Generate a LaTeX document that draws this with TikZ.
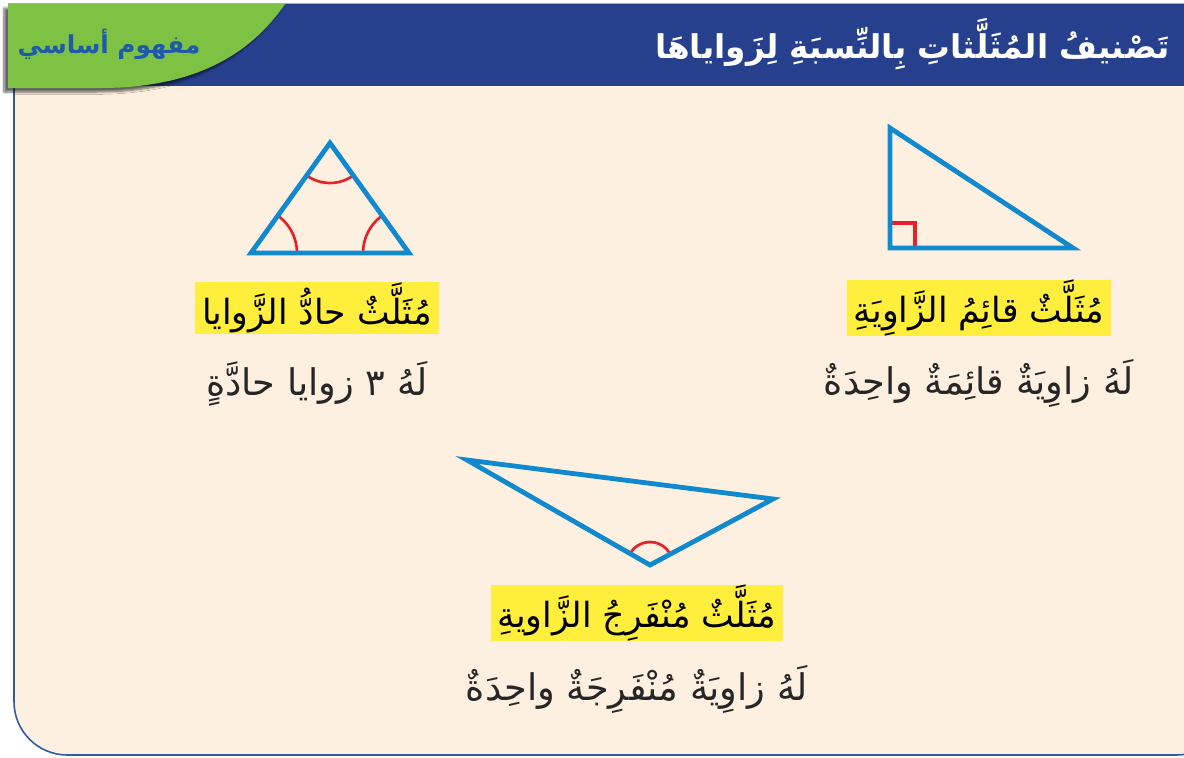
\documentclass[tikz,border=0pt]{standalone}
\usepackage{fontspec}
\newfontfamily\arabicfont[Script=Arabic]{DejaVu Sans}
\TeXXeTstate=1
\usetikzlibrary{shadows.blur}

\definecolor{bandnavy}{RGB}{38,64,142}
\definecolor{tabgreen}{RGB}{125,194,66}
\definecolor{tabtext}{RGB}{30,90,170}
\definecolor{cream}{RGB}{253,240,225}
\definecolor{frameblue}{RGB}{50,90,170}
\definecolor{triblue}{RGB}{16,137,206}
\definecolor{markred}{RGB}{232,32,40}
\definecolor{hiyellow}{RGB}{255,238,60}

\begin{document}
\begin{tikzpicture}[x=0.75pt,y=0.75pt,yscale=-1,xscale=1,
  tri/.style={draw=triblue,line width=3.6pt,line join=miter},
  anglemark/.style={draw=markred,line width=2pt},
  keytitle/.style={fill=hiyellow,inner xsep=5pt,inner ysep=0pt,minimum height=39pt,font=\arabicfont\fontsize{26}{30}\selectfont},
  keytext/.style={inner sep=0.75pt,font=\arabicfont\fontsize{27.5}{32}\selectfont,text=black!85}]
\useasboundingbox (0,0) rectangle (1184,757);
\clip (0,0) rectangle (1184,757);

%Shape: Body [cream panel]
\draw [fill=cream,draw=frameblue,line width=1.2pt,rounded corners=40] (14,80) -- (14,755) -- (1230,755) -- (1230,80) ;
%Shape: Header band
\fill [bandnavy] (8,4) rectangle (1200,86) ;
\draw [frameblue!50,line width=0.8pt] (8,3.5) -- (1200,3.5) ;
%Shape: Green tab
\fill [tabgreen,blur shadow={shadow xshift=-3pt,shadow yshift=-3pt,shadow blur steps=6,shadow opacity=60}] (8,4) -- (285,4) .. controls (240,70) and (170,88) .. (100,88) -- (8,88) -- cycle ;

% Text Node
\node (tabname) at (109,44) [text=tabtext,font=\arabicfont\bfseries\fontsize{18.5}{22}\selectfont] {\beginR مفهوم أساسي\endR};
% Text Node
\node (heading) at (1170,44) [anchor=east,inner sep=0pt,text=white,font=\arabicfont\bfseries\fontsize{24.5}{29}\selectfont] {\beginR تَصْنيفُ المُثَلَّثاتِ بِالنِّسبَةِ لِزَواياهَا\endR};

%Shape: Acute triangle
\begin{scope}
\clip (330,143) -- (251,253) -- (409,253) -- cycle ;
\draw [anglemark] (330,143) circle (40) ;
\draw [anglemark] (251,253) circle (46) ;
\draw [anglemark] (409,253) circle (46) ;
\end{scope}
\draw [tri] (330,143) -- (251,253) -- (409,253) -- cycle ;

%Shape: Right triangle
\draw [anglemark,line width=2.4pt] (890,223) -| (915,248) ;
\draw [tri] (890,128) -- (890,248) -- (1073,248) -- cycle ;

%Shape: Obtuse triangle
\begin{scope}
\clip (467,460) -- (650,565) -- (773,499) -- cycle ;
\draw [anglemark] (650,565) circle (23) ;
\end{scope}
\draw [tri] (467,460) -- (650,565) -- (773,499) -- cycle ;

% Text Node
\node (acutename) at (317,308) [keytitle] {\beginR مُثَلَّثٌ حادُّ الزَّوايا\endR};
% Text Node
\node (acutedesc) at (317,384) [keytext] {\beginR لَهُ ٣ زوايا حادَّةٍ\endR};
% Text Node
\node (rightname) at (979,308) [keytitle] {\beginR مُثَلَّثٌ قائِمُ الزَّاوِيَةِ\endR};
% Text Node
\node (rightdesc) at (979,384) [keytext] {\beginR لَهُ زاوِيَةٌ قائِمَةٌ واحِدَةٌ\endR};
% Text Node
\node (obtusename) at (637,613) [keytitle] {\beginR مُثَلَّثٌ مُنْفَرِجُ الزَّاويةِ\endR};
% Text Node
\node (obtusedesc) at (637,690) [keytext] {\beginR لَهُ زاوِيَةٌ مُنْفَرِجَةٌ واحِدَةٌ\endR};

\end{tikzpicture}
\end{document}
